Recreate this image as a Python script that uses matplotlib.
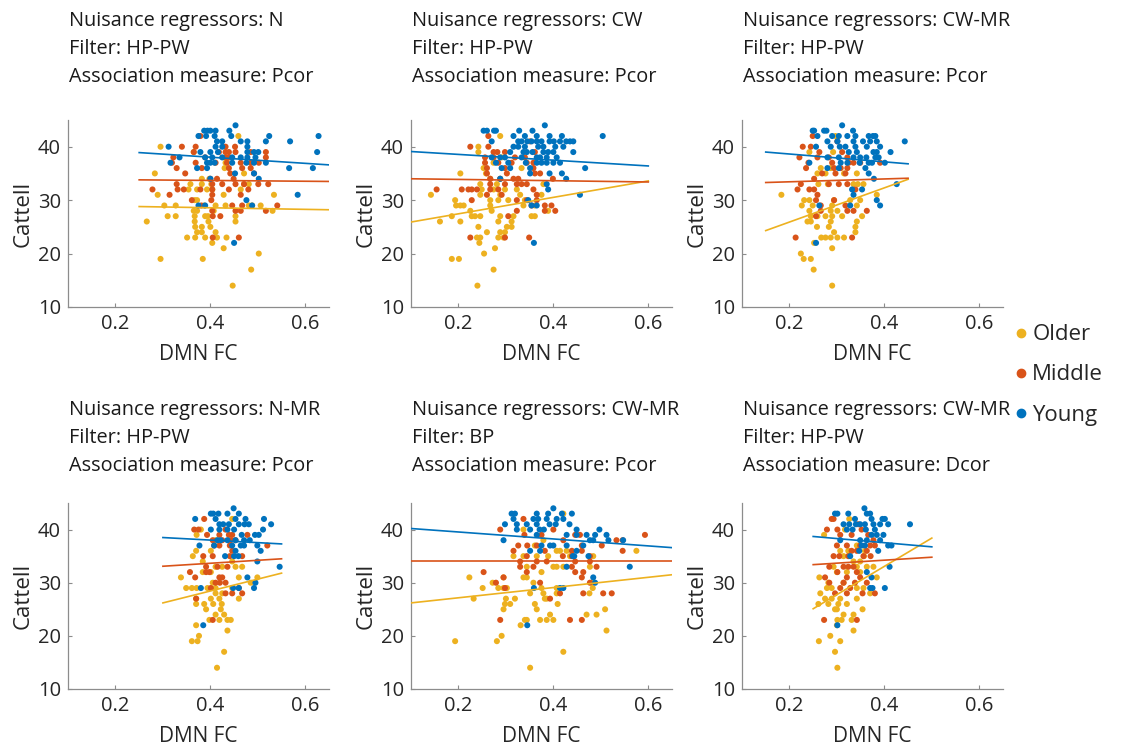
import numpy as np
import matplotlib
matplotlib.use('Agg')
import matplotlib.pyplot as plt
from matplotlib.lines import Line2D

plt.rcParams['font.family'] = ['Open Sans', 'DejaVu Sans']

# colours (MATLAB default order)
c_old = '#EDB120'
c_mid = '#D95319'
c_young = '#0072BD'

groups = ['Older', 'Middle', 'Young']

titles = [
    ('N', 'HP-PW', 'Pcor'),
    ('CW', 'HP-PW', 'Pcor'),
    ('CW-MR', 'HP-PW', 'Pcor'),
    ('N-MR', 'HP-PW', 'Pcor'),
    ('CW-MR', 'BP', 'Pcor'),
    ('CW-MR', 'HP-PW', 'Dcor'),
]

# ---- panel 1 : N / HP-PW / Pcor
p1_older = [(0.459,42),(0.295,40),(0.365,39),(0.439,38),(0.430,36),(0.432,37),
    (0.283,35),(0.471,35),(0.382,34),(0.398,34),
    (0.358,33),(0.382,33),(0.402,33),(0.471,33),(0.481,33),
    (0.354,32),(0.372,32),(0.393,32),(0.404,32),(0.464,32),
    (0.289,31),(0.428,31),(0.534,31),(0.367,30),(0.372,30),
    (0.303,29),(0.327,29),(0.387,29),(0.411,29),(0.432,29),(0.481,29),(0.488,29),(0.506,29),
    (0.365,28),(0.372,28),(0.407,28),(0.531,28),
    (0.310,27),(0.327,27),(0.367,27),(0.389,27),(0.395,27),(0.453,27),
    (0.266,26),(0.367,26),(0.396,26),(0.453,26),
    (0.368,25),(0.382,25),(0.400,25),(0.372,24),(0.382,24),(0.411,24),
    (0.351,23),(0.368,23),(0.389,23),(0.414,23),(0.434,23),
    (0.404,22),(0.428,21),(0.502,20),(0.295,19),(0.384,19),(0.486,17),(0.447,14)]
p1_middle = [(0.379,42),(0.340,40),(0.369,40),(0.432,40),(0.452,40),
    (0.365,39),(0.418,39),(0.432,39),(0.439,39),(0.453,39),(0.485,39),(0.517,39),
    (0.322,38),(0.389,38),(0.432,38),(0.439,38),(0.517,38),
    (0.319,37),(0.369,37),(0.411,37),(0.435,37),(0.464,37),(0.485,37),(0.502,37),
    (0.329,36),(0.382,36),(0.439,36),(0.467,36),(0.485,36),
    (0.347,35),(0.442,35),(0.492,35),(0.400,34),(0.414,34),(0.449,34),
    (0.329,33),(0.404,33),(0.425,33),(0.453,33),(0.471,33),(0.501,33),(0.522,33),
    (0.278,32),(0.331,32),(0.344,32),(0.379,32),(0.404,32),(0.439,32),(0.480,32),
    (0.314,31),(0.404,31),(0.464,31),(0.361,30),(0.402,30),
    (0.381,29),(0.446,29),(0.467,29),(0.541,29),
    (0.404,28),(0.453,28),(0.464,28),(0.517,28),
    (0.405,27),(0.421,27),(0.405,23),(0.460,23)]
p1_young = [(0.387,43),(0.394,43),(0.400,43),(0.411,43),(0.440,43),(0.453,44),
    (0.375,42),(0.391,42),(0.409,42),(0.444,42),(0.524,42),(0.628,42),
    (0.414,41),(0.425,41),(0.464,41),(0.478,41),(0.517,41),(0.568,41),
    (0.312,40),(0.411,40),(0.425,40),(0.478,40),
    (0.379,39),(0.400,39),(0.416,39),(0.478,39),(0.492,39),(0.501,39),(0.625,39),
    (0.335,38),(0.389,38),(0.404,38),(0.425,38),(0.446,38),(0.464,38),(0.478,38),(0.495,38),
    (0.316,37),(0.393,37),(0.400,37),(0.409,37),(0.446,37),(0.476,37),(0.492,37),(0.517,37),
    (0.372,36),(0.393,36),(0.566,36),(0.616,36),(0.452,35),(0.492,35),
    (0.400,34),(0.502,34),(0.584,31),(0.476,30),(0.375,29),(0.389,29),(0.488,29),(0.450,22)]

# ---- panel 2 : CW / HP-PW / Pcor
p2_older = [(0.288,42),(0.242,40),(0.242,39),(0.291,38),(0.274,37),
    (0.253,36),(0.333,36),(0.204,35),(0.258,35),(0.267,34),(0.288,34),
    (0.246,33),(0.281,33),(0.379,33),(0.249,32),(0.274,32),(0.298,32),(0.323,32),
    (0.142,31),(0.246,31),(0.288,31),(0.330,31),(0.375,31),
    (0.193,30),(0.267,30),(0.284,30),(0.305,30),(0.340,30),
    (0.195,29),(0.204,29),(0.211,29),(0.267,29),(0.337,29),(0.361,29),
    (0.225,28),(0.270,28),(0.389,28),
    (0.186,27),(0.228,27),(0.235,27),(0.246,27),(0.288,27),(0.316,27),(0.354,27),(0.361,27),
    (0.161,26),(0.204,26),(0.284,26),(0.312,26),(0.242,25),(0.302,25),(0.312,25),
    (0.260,24),(0.288,24),(0.298,24),(0.239,23),(0.246,23),(0.284,23),(0.295,23),
    (0.244,22),(0.277,21),(0.254,20),(0.186,19),(0.201,19),(0.274,17),(0.240,14)]
p2_middle = [(0.263,42),(0.351,41),(0.225,40),(0.263,40),
    (0.274,39),(0.282,39),(0.298,39),(0.361,39),(0.256,38),(0.274,38),(0.319,38),(0.340,38),
    (0.256,37),(0.284,37),(0.312,37),(0.344,37),(0.358,37),(0.260,36),(0.298,36),(0.358,36),
    (0.260,35),(0.302,35),(0.361,35),(0.372,35),
    (0.267,34),(0.288,34),(0.316,34),(0.326,34),(0.399,34),
    (0.267,33),(0.298,33),(0.323,33),(0.333,33),(0.344,33),
    (0.154,32),(0.207,32),(0.221,32),(0.228,32),(0.239,32),(0.267,32),(0.284,32),(0.358,32),
    (0.260,31),(0.291,31),(0.365,31),(0.228,30),(0.323,30),(0.344,30),(0.365,30),
    (0.354,29),(0.382,29),(0.396,29),(0.323,28),(0.382,28),(0.404,28),
    (0.305,27),(0.225,23),(0.298,23),(0.349,23)]
p2_young = [(0.253,43),(0.260,43),(0.275,43),(0.279,43),(0.328,43),(0.356,43),(0.382,44),
    (0.316,42),(0.340,42),(0.365,42),(0.392,42),(0.418,42),(0.504,42),
    (0.270,41),(0.326,41),(0.333,41),(0.345,41),(0.354,41),(0.365,41),(0.375,41),(0.392,41),
    (0.401,41),(0.414,41),(0.427,41),(0.435,41),(0.442,41),
    (0.316,40),(0.326,40),(0.340,40),(0.368,40),(0.379,40),(0.404,40),(0.421,40),
    (0.309,39),(0.337,39),(0.344,39),(0.356,39),(0.379,39),(0.389,39),(0.400,39),(0.442,39),
    (0.270,38),(0.288,38),(0.298,38),(0.333,38),(0.365,38),(0.372,38),(0.386,38),(0.407,38),
    (0.279,37),(0.305,37),(0.342,37),(0.365,37),(0.375,37),(0.386,37),(0.400,37),(0.414,37),
    (0.291,36),(0.309,36),(0.351,36),(0.467,36),(0.351,35),(0.392,35),(0.418,35),
    (0.288,34),(0.427,34),(0.386,33),(0.389,32),(0.456,31),(0.347,30),(0.354,29),(0.365,29),(0.359,22)]

# ---- panel 3 : CW-MR / HP-PW / Pcor
p3_older = [(0.297,42),(0.242,39),(0.292,39),(0.266,36),(0.287,36),
    (0.259,35),(0.276,35),(0.315,35),(0.342,35),
    (0.261,33),(0.281,33),(0.335,33),(0.344,33),(0.356,33),(0.183,31),(0.384,31),
    (0.231,30),(0.242,30),(0.294,30),(0.328,30),(0.349,30),
    (0.226,29),(0.249,29),(0.290,29),(0.342,29),(0.242,28),(0.287,28),(0.301,28),
    (0.245,27),(0.259,27),(0.276,27),(0.290,27),(0.311,27),(0.353,27),
    (0.238,26),(0.245,26),(0.287,26),(0.342,26),(0.258,25),(0.283,25),(0.339,25),
    (0.294,24),(0.339,24),(0.267,23),(0.276,23),(0.287,23),(0.301,23),(0.315,23),
    (0.252,22),(0.290,21),(0.224,20),(0.230,19),(0.245,19),(0.251,17),(0.290,14)]
p3_middle = [(0.249,42),(0.301,41),(0.228,40),(0.245,40),(0.263,39),(0.311,39),
    (0.221,38),(0.259,38),(0.283,38),(0.322,38),
    (0.240,37),(0.290,37),(0.325,37),(0.335,37),(0.349,37),(0.391,37),
    (0.235,36),(0.294,36),(0.308,36),(0.322,36),(0.269,35),(0.297,35),(0.318,35),(0.252,34),
    (0.224,33),(0.283,33),(0.304,33),(0.322,33),(0.217,32),(0.242,32),(0.252,32),(0.339,32),
    (0.259,31),(0.256,30),(0.294,30),(0.266,29),(0.318,29),
    (0.266,28),(0.322,28),(0.335,28),(0.363,28),(0.256,27),(0.213,23),(0.332,23)]
p3_young = [(0.249,43),(0.252,43),(0.273,43),(0.278,43),(0.311,44),(0.334,43),
    (0.259,42),(0.290,42),(0.304,42),(0.322,42),(0.339,42),(0.367,42),(0.376,42),(0.381,42),
    (0.443,41),(0.280,41),(0.301,41),(0.335,41),(0.355,41),(0.370,41),(0.384,41),
    (0.256,40),(0.287,40),(0.306,40),(0.318,40),(0.339,40),(0.363,40),(0.391,40),
    (0.413,39),(0.325,39),(0.342,39),(0.377,39),(0.384,39),
    (0.280,38),(0.304,38),(0.335,38),(0.349,38),(0.362,38),(0.381,38),(0.388,38),
    (0.242,37),(0.308,37),(0.322,37),(0.348,37),(0.367,37),(0.374,37),(0.401,37),
    (0.280,36),(0.304,36),(0.360,36),(0.367,35),(0.378,34),(0.426,33),(0.332,32),(0.353,32),
    (0.335,31),(0.384,30),(0.263,29),(0.328,29),(0.391,29),(0.256,22)]

# ---- panel 4 : N-MR / HP-PW / Pcor
p4_older = [(0.446,42),(0.380,40),(0.371,39),(0.411,38),(0.370,36),(0.401,36),(0.363,35),
    (0.384,34),(0.446,34),(0.411,33),(0.425,33),(0.453,33),(0.467,33),(0.384,32),(0.401,32),
    (0.338,31),(0.460,31),(0.499,31),(0.405,30),(0.485,30),
    (0.349,29),(0.361,29),(0.371,29),(0.394,29),(0.411,29),(0.446,29),(0.411,28),(0.425,28),
    (0.370,27),(0.401,27),(0.419,27),(0.460,27),(0.370,26),(0.387,26),(0.406,26),(0.424,26),
    (0.391,25),(0.422,25),(0.411,24),(0.429,24),(0.398,23),(0.419,23),(0.436,23),(0.443,23),
    (0.370,22),(0.436,21),(0.376,20),(0.361,19),(0.373,19),(0.429,17),(0.414,14)]
p4_middle = [(0.387,42),(0.366,40),(0.375,40),(0.432,40),
    (0.393,39),(0.419,39),(0.439,39),(0.446,39),(0.478,39),(0.405,38),(0.425,38),(0.443,38),(0.453,38),
    (0.408,37),(0.419,37),(0.441,37),(0.520,37),(0.446,36),(0.385,35),(0.405,35),(0.441,35),(0.467,35),
    (0.391,33),(0.415,33),(0.436,33),(0.357,32),(0.391,32),(0.398,32),(0.368,31),(0.419,31),(0.425,31),
    (0.411,30),(0.420,30),(0.432,30),(0.401,29),(0.460,29),(0.432,28),(0.446,28),(0.467,28),
    (0.370,27),(0.405,23)]
p4_young = [(0.368,42),(0.401,43),(0.406,43),(0.417,43),(0.436,43),(0.449,44),(0.460,43),
    (0.411,42),(0.453,42),(0.474,42),(0.513,42),
    (0.528,41),(0.419,41),(0.427,41),(0.439,41),(0.460,41),(0.472,41),(0.481,41),
    (0.401,40),(0.419,40),(0.436,40),(0.450,40),(0.511,40),(0.466,39),(0.494,39),(0.502,39),
    (0.415,38),(0.422,38),(0.436,38),(0.453,38),(0.471,38),(0.483,38),
    (0.377,37),(0.408,37),(0.446,37),(0.464,37),(0.471,37),(0.499,37),(0.506,36),(0.453,36),
    (0.431,35),(0.450,35),(0.459,35),(0.499,34),(0.546,33),(0.478,31),(0.495,30),
    (0.380,29),(0.448,29),(0.460,29),(0.492,29),(0.385,22)]

# ---- panel 5 : CW-MR / BP / Pcor
p5_older = [(0.421,43),(0.337,40),(0.379,38),(0.361,37),(0.407,36),(0.414,36),(0.428,36),(0.575,36),
    (0.316,35),(0.337,35),(0.365,35),(0.389,35),(0.435,35),(0.484,35),
    (0.344,33),(0.400,33),(0.407,33),(0.421,33),(0.477,33),(0.375,32),
    (0.223,31),(0.295,31),(0.337,31),(0.344,31),(0.272,30),(0.358,30),(0.481,30),
    (0.251,29),(0.284,29),(0.295,29),(0.302,29),(0.375,29),(0.407,29),(0.483,29),
    (0.351,28),(0.379,28),(0.407,28),(0.476,28),(0.232,27),(0.300,27),(0.319,27),(0.382,27),(0.386,27),
    (0.298,26),(0.309,26),(0.361,26),(0.409,26),(0.295,25),(0.365,25),(0.509,25),
    (0.393,24),(0.470,24),(0.491,24),(0.340,23),(0.344,23),(0.372,23),(0.386,23),(0.400,23),
    (0.331,22),(0.291,20),(0.512,21),(0.281,19),(0.193,19),(0.421,17),(0.351,14)]
p5_middle = [(0.288,40),(0.337,42),(0.400,40),
    (0.339,39),(0.375,39),(0.446,39),(0.456,39),(0.593,39),(0.533,38),(0.546,38),(0.421,38),
    (0.326,37),(0.345,37),(0.365,37),(0.460,37),(0.502,37),
    (0.316,36),(0.382,36),(0.439,36),(0.460,36),(0.546,36),(0.344,35),(0.420,35),(0.439,35),(0.477,35),
    (0.330,34),(0.365,34),(0.386,34),(0.446,34),(0.477,34),(0.330,33),(0.358,33),(0.439,33),(0.491,33),
    (0.253,32),(0.344,32),(0.446,32),(0.463,32),(0.295,31),(0.460,31),(0.279,30),(0.372,30),(0.477,30),
    (0.298,29),(0.414,28),(0.463,28),(0.505,28),(0.523,28),(0.393,27),
    (0.288,23),(0.435,23),(0.460,23)]
p5_young = [(0.312,43),(0.319,43),(0.365,43),(0.389,43),(0.400,44),(0.418,43),(0.439,43),
    (0.316,42),(0.358,42),(0.368,42),(0.386,42),(0.407,42),(0.421,42),
    (0.298,41),(0.323,41),(0.344,41),(0.365,41),(0.392,41),(0.405,41),(0.434,41),
    (0.323,40),(0.351,40),(0.371,40),(0.380,40),(0.449,40),(0.497,40),
    (0.295,38),(0.365,39),(0.428,39),(0.449,39),(0.470,39),(0.488,39),(0.512,39),
    (0.516,38),(0.477,38),(0.484,38),(0.547,38),(0.375,37),(0.393,37),(0.400,37),(0.428,37),(0.463,37),
    (0.351,36),(0.372,36),(0.449,36),(0.441,35),(0.444,35),(0.474,35),
    (0.428,33),(0.561,33),(0.484,31),(0.488,30),(0.359,29),(0.414,29),(0.421,29),(0.345,22)]

# ---- panel 6 : CW-MR / HP-PW / Dcor
p6_older = [(0.326,42),(0.273,39),(0.317,40),(0.342,37),(0.307,36),(0.324,36),(0.359,36),
    (0.314,35),(0.357,35),(0.335,34),(0.349,34),(0.293,33),(0.342,33),(0.363,33),(0.377,33),
    (0.300,32),(0.321,32),(0.349,32),(0.263,31),(0.384,31),(0.282,30),(0.314,30),
    (0.279,29),(0.289,29),(0.342,29),(0.356,29),(0.265,28),(0.370,28),
    (0.275,27),(0.289,27),(0.307,27),(0.342,27),(0.261,26),(0.282,26),(0.303,26),(0.321,26),
    (0.296,25),(0.300,25),(0.354,25),(0.314,24),(0.335,24),(0.301,23),(0.310,23),(0.331,23),
    (0.300,22),(0.335,21),(0.286,20),(0.262,19),(0.307,19),(0.296,17),(0.301,14)]
p6_middle = [(0.289,42),(0.293,42),(0.345,41),(0.279,40),(0.301,40),(0.352,40),
    (0.307,39),(0.331,39),(0.366,39),(0.377,38),
    (0.300,37),(0.321,37),(0.349,37),(0.370,37),(0.380,37),(0.331,36),(0.342,36),(0.363,36),
    (0.293,35),(0.305,35),(0.324,35),(0.356,35),(0.371,35),(0.284,33),(0.314,33),(0.324,33),(0.335,33),
    (0.301,32),(0.342,32),(0.275,31),(0.321,31),(0.349,31),(0.284,30),(0.314,30),(0.338,30),(0.363,30),
    (0.307,29),(0.328,29),(0.296,28),(0.321,28),(0.354,28),(0.380,28),(0.273,23),(0.342,23)]
p6_young = [(0.296,43),(0.301,43),(0.324,43),(0.358,44),(0.363,43),(0.370,43),
    (0.338,42),(0.373,42),(0.396,42),(0.401,42),
    (0.314,41),(0.326,41),(0.340,41),(0.349,41),(0.359,41),(0.377,41),(0.391,41),(0.408,41),(0.454,41),
    (0.321,40),(0.333,40),(0.361,40),(0.380,40),(0.373,39),(0.384,39),(0.398,39),
    (0.349,38),(0.363,38),(0.391,38),(0.307,38),(0.408,37),(0.415,37),(0.352,37),(0.359,37),
    (0.347,36),(0.387,36),(0.328,35),(0.411,33),(0.363,32),(0.373,31),
    (0.370,29),(0.375,29),(0.401,29),(0.301,22)]

panel_data = [
    (p1_older, p1_middle, p1_young),
    (p2_older, p2_middle, p2_young),
    (p3_older, p3_middle, p3_young),
    (p4_older, p4_middle, p4_young),
    (p5_older, p5_middle, p5_young),
    (p6_older, p6_middle, p6_young),
]

# regression lines: x start/end, then (y start, y end) for older, middle, young
fit_x = [(0.25, 0.65), (0.1, 0.6), (0.15, 0.45), (0.3, 0.55), (0.1, 0.65), (0.25, 0.5)]
fit_older = [(28.8, 28.2), (25.9, 33.6), (24.3, 33.9), (26.2, 31.8), (26.2, 31.5), (25.1, 38.4)]
fit_middle = [(33.8, 33.5), (34.0, 33.4), (33.3, 34.1), (33.1, 34.5), (34.0, 34.0), (33.4, 34.8)]
fit_young = [(38.9, 36.6), (39.1, 36.4), (39.0, 36.8), (38.5, 37.3), (40.2, 36.6), (38.7, 36.75)]

fig = plt.figure(figsize=(11.38, 7.5), dpi=100)

W, H = 1138.0, 750.0
lefts = [68, 411, 742]
row_bottom = [307, 689]   # px of the x axis
row_top = [120, 503]
title_y = [[21, 49, 77], [410, 438, 466]]

cols = [c_old, c_mid, c_young]
axis_col = '#8c8c8c'
txt_col = '#262626'

for i in range(6):
    r, c = divmod(i, 3)
    ax = fig.add_axes([lefts[c] / W, 1 - row_bottom[r] / H,
                       261 / W, (row_bottom[r] - row_top[r]) / H])
    for pts, col in zip(panel_data[i], cols):
        a = np.array(pts)
        ax.scatter(a[:, 0], a[:, 1], s=19, color=col, edgecolors='none', zorder=2)
    x0, x1 = fit_x[i]
    for fits, col in zip([fit_older, fit_middle, fit_young], cols):
        ax.plot([x0, x1], fits[i], color=col, lw=1.2, zorder=3)
    ax.set_xlim(0.1, 0.65)
    ax.set_ylim(10, 45)
    ax.set_xticks([0.2, 0.4, 0.6])
    ax.set_yticks([10, 20, 30, 40])
    ax.set_xticklabels(['0.2', '0.4', '0.6'])
    for s in ['top', 'right']:
        ax.spines[s].set_visible(False)
    for s in ['left', 'bottom']:
        ax.spines[s].set_color(axis_col)
        ax.spines[s].set_linewidth(0.9)
    ax.tick_params(direction='in', length=3, width=0.8, color=axis_col,
                   labelsize=14.5, labelcolor=txt_col, pad=5)
    ax.set_xlabel('DMN FC', fontsize=15, color=txt_col, labelpad=7)
    ax.set_ylabel('Cattell', fontsize=16, color=txt_col, labelpad=3)

    reg, filt, meas = titles[i]
    lines = ['Nuisance regressors: ' + reg, 'Filter: ' + filt,
             'Association measure: ' + meas]
    for t, yy in zip(lines, title_y[r]):
        fig.text((lefts[c] + 1) / W, 1 - yy / H, t, fontsize=14.3,
                 color='#1a1a1a', ha='left', va='center')

handles = [Line2D([], [], marker='o', ls='none', color=col, markersize=6)
           for col in cols]
fig.legend(handles, groups, loc='center left', bbox_to_anchor=(990 / W, 1 - 375 / H),
           frameon=False, fontsize=16, handletextpad=0.0, labelspacing=0.86,
           handlelength=1.0, labelcolor=txt_col)

fig.savefig('out.png', dpi=100)
